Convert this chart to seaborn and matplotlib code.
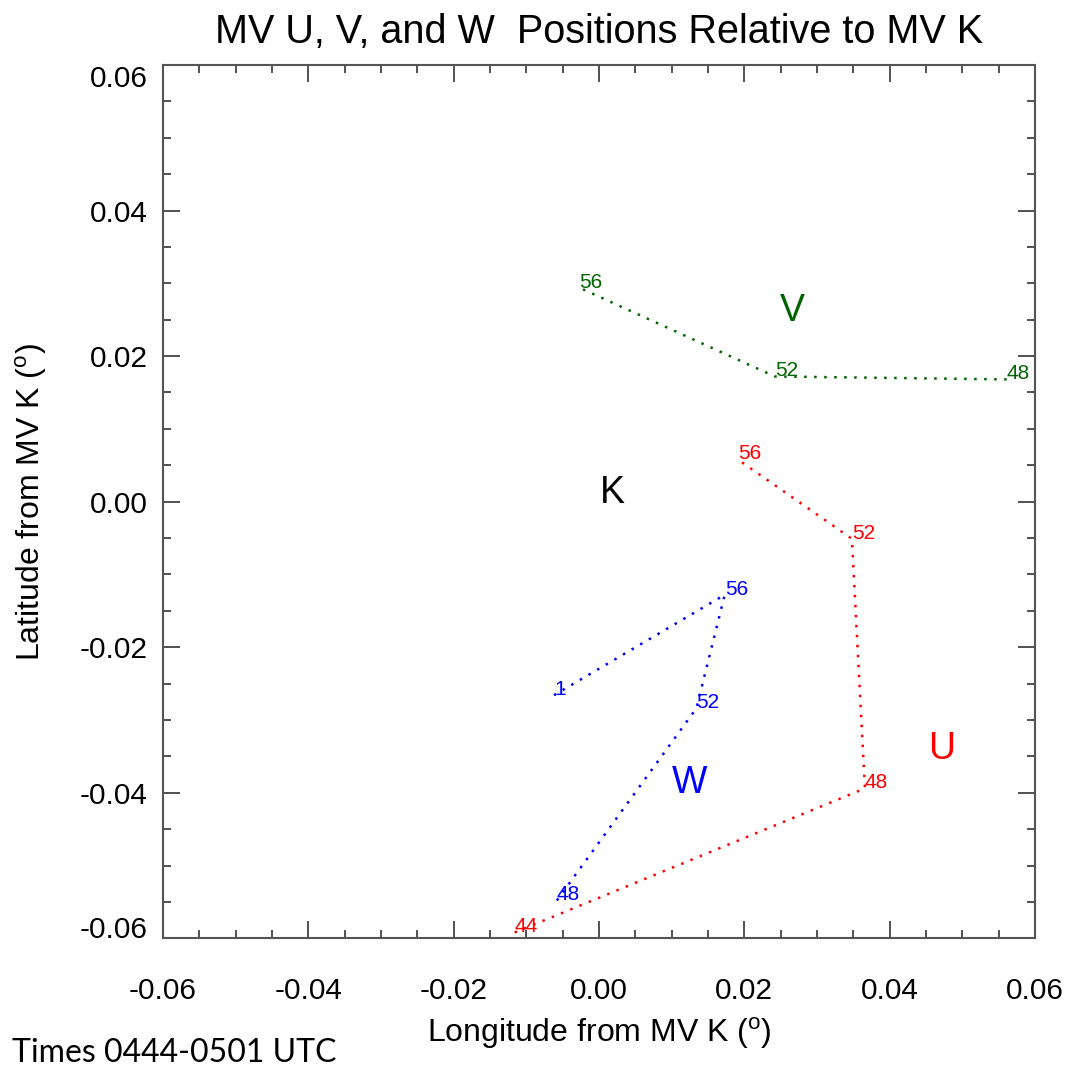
import pandas as pd
import matplotlib
matplotlib.use("Agg")
import matplotlib.pyplot as plt
from matplotlib.ticker import MultipleLocator, FormatStrFormatter
import seaborn as sns

# --- positions relative to MV K (degrees), in time order ---
u_lon = [-0.0116, 0.0366, 0.0348, 0.0191]
u_lat = [-0.0592, -0.0394, -0.0051, 0.0058]
u_min = ["44", "48", "52", "56"]

v_lon = [0.0561, 0.0242, -0.0027]
v_lat = [0.0168, 0.0172, 0.0294]
v_min = ["48", "52", "56"]

w_lon = [-0.0058, 0.0134, 0.0173, -0.0062]
w_lat = [-0.0548, -0.0284, -0.0128, -0.0266]
w_min = ["48", "52", "56", "1"]

# --- vessel name labels ---
names = ["K", "V", "U", "W"]
name_lon = [0.0001, 0.0249, 0.0453, 0.0100]
name_lat = [-0.0002, 0.0248, -0.0354, -0.0401]
name_colors = ["black", "#006400", "#ff0000", "#0000ff"]

sns.set_style("white")
plt.rcParams["font.family"] = ["Liberation Sans", "DejaVu Sans"]
plt.rcParams["axes.unicode_minus"] = False
plt.rcParams["mathtext.fontset"] = "custom"
plt.rcParams["mathtext.rm"] = "Liberation Sans"
plt.rcParams["text.color"] = "black"
plt.rcParams["axes.labelcolor"] = "black"

fig = plt.figure(figsize=(10.73, 10.72), dpi=100)
ax = fig.add_axes([163 / 1073, 1 - 938.3 / 1072, 872 / 1073, 873.3 / 1072])

series = [
    (u_lon, u_lat, u_min, "#ff0000"),
    (v_lon, v_lat, v_min, "#006400"),
    (w_lon, w_lat, w_min, "#0000ff"),
]
for lon, lat, mins, color in series:
    df = pd.DataFrame({"lon": lon, "lat": lat})
    sns.lineplot(data=df, x="lon", y="lat", sort=False, estimator=None,
                 color=color, linewidth=1.8, linestyle=(0, (1, 3)), ax=ax)
    for x, y, t in zip(lon, lat, mins):
        ax.text(x, y, t, color=color, fontsize=15, ha="left", va="baseline")

for t, x, y, c in zip(names, name_lon, name_lat, name_colors):
    ax.text(x, y, t, color=c, fontsize=27, ha="left", va="baseline")

ax.set_xlim(-0.06, 0.06)
ax.set_ylim(-0.06, 0.06)
for a in (ax.xaxis, ax.yaxis):
    a.set_major_locator(MultipleLocator(0.02))
    a.set_minor_locator(MultipleLocator(0.005))
    a.set_major_formatter(FormatStrFormatter("%.2f"))

ax.tick_params(which="both", direction="in", top=True, right=True,
               bottom=True, left=True, color="#222222", width=1.1,
               labelsize=21.5, labelcolor="black")
ax.tick_params(which="major", length=12)
ax.tick_params(which="minor", length=6)
ax.tick_params(axis="x", pad=28)
ax.tick_params(axis="y", pad=11)
for s in ax.spines.values():
    s.set_color("#555555")
    s.set_linewidth(1.5)

ax.set_xlabel(r"Longitude from MV K ($^{\mathregular{o}}$)", fontsize=23)
ax.set_ylabel(r"Latitude from MV K ($^{\mathregular{o}}$)", fontsize=23)
ax.xaxis.set_label_coords(0.5, -0.088)
ax.yaxis.set_label_coords(-0.131, 0.5)
ax.set_title("MV U, V, and W  Positions Relative to MV K", fontsize=28.5,
             pad=16, color="black")

# keep the end labels of the y axis inside the frame, as in the original
fig.canvas.draw()
for tick in ax.yaxis.get_major_ticks():
    if abs(tick.get_loc() - 0.06) < 1e-9:
        tick.label1.set_va("top")
    elif abs(tick.get_loc() + 0.06) < 1e-9:
        tick.label1.set_va("baseline")

fig.text(12 / 1073, 1 - 1061.7 / 1072, "Times 0444-0501 UTC", fontsize=23,
         family=["Lato", "DejaVu Sans"], ha="left", va="baseline")

fig.savefig("out.png", dpi=100)
